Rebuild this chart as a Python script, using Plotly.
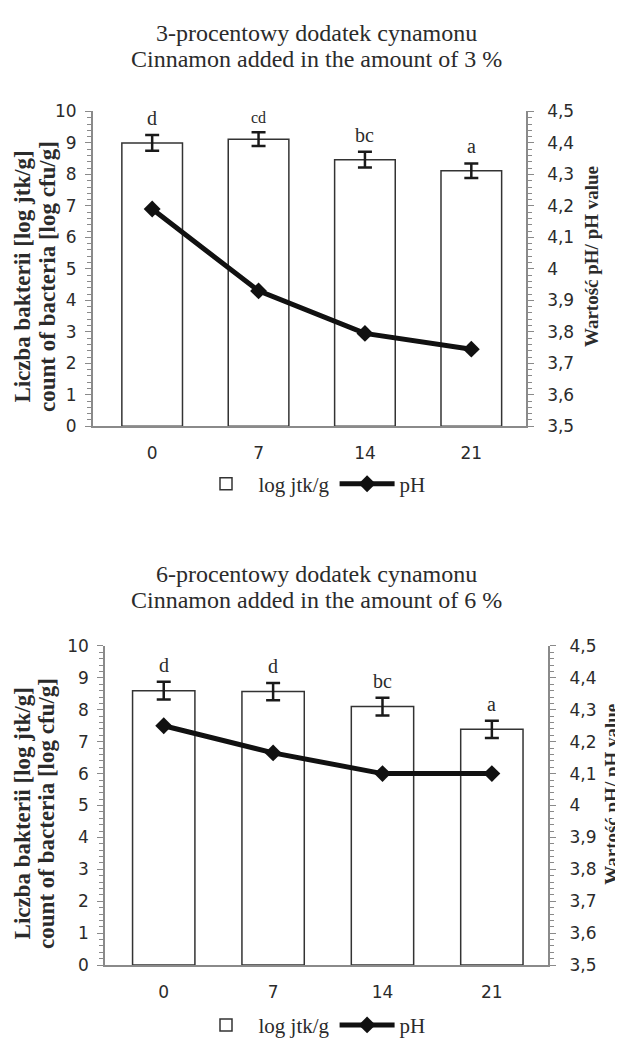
import plotly.graph_objects as go

# ---------------- data ----------------
days = ["0", "7", "14", "21"]

count_3 = [9.0, 9.12, 8.47, 8.12]
err_3 = [0.25, 0.22, 0.25, 0.23]
ph_3 = [4.19, 3.93, 3.795, 3.745]
letters_3 = ["d", "cd", "bc", "a"]

count_6 = [8.6, 8.57, 8.1, 7.39]
err_6 = [0.28, 0.27, 0.28, 0.27]
ph_6 = [4.25, 4.165, 4.10, 4.10]
letters_6 = ["d", "d", "bc", "a"]

titles_3 = ["3-procentowy dodatek cynamonu", "Cinnamon added in the amount of 3 %"]
titles_6 = ["6-procentowy dodatek cynamonu", "Cinnamon added in the amount of 6 %"]
left_title = ["Liczba bakterii [log jtk/g]", "count of bacteria [log cfu/g]"]
right_title = "Wartość pH/ pH value"
bar_name = "log jtk/g"
line_name = "pH"
# --------------------------------------

# The page body keeps its default 8px margin, so the figure starts at (8, 8)
# inside the 623x1047 window; all target positions below are window pixels.
OFF = 8
W, H = 623 - OFF, 1047 - OFF
SERIF = "Liberation Serif, Times New Roman, serif"
SANS = "DejaVu Sans, Verdana, sans-serif"
TXT = "#2b2b2b"
AX = "#8a8a8a"


def px_x(v):
    return (v - OFF) / W


def px_y(v):
    return 1 - (v - OFF) / H


fig = go.Figure()

panels = [
    dict(count=count_3, err=err_3, ph=ph_3, letters=letters_3, titles=titles_3,
         xa="x", ya="y", ya2="y2", legend="legend",
         xdom=[92.7, 526.0], ydom=[424.3, 103.3], xr=[-0.559, 3.514],
         title_y=[23.3, 49.3], legend_y=483.3,
         ltitle_x=[22.7, 48.0], ltitle_y=272, rtitle_x=591.7, rtitle_y=251),
    dict(count=count_6, err=err_6, ph=ph_6, letters=letters_6, titles=titles_6,
         xa="x2", ya="y3", ya2="y4", legend="legend2",
         xdom=[105.0, 548.3], ydom=[973.7, 648.3], xr=[-0.537, 3.516],
         title_y=[575.0, 601.7], legend_y=1035.0,
         ltitle_x=[22.0, 46.5], ltitle_y=819, rtitle_x=612.0, rtitle_y=800),
]

annotations = []
layout_axes = {}

for i, p in enumerate(panels):
    fig.add_trace(go.Bar(
        x=days, y=p["count"], name=bar_name,
        xaxis=p["xa"], yaxis=p["ya"], legend=p["legend"],
        width=0.57,
        marker=dict(color="white", line=dict(color="#333333", width=1.5)),
        error_y=dict(type="data", array=p["err"], visible=True,
                     color="#1a1a1a", thickness=2.5, width=7),
    ))
    fig.add_trace(go.Scatter(
        x=days, y=p["ph"], name=line_name,
        xaxis=p["xa"], yaxis=p["ya2"], legend=p["legend"],
        mode="lines+markers",
        line=dict(color="#111111", width=5),
        marker=dict(symbol="diamond", size=13, color="#111111"),
    ))

    # significance letters (x given as category index)
    for k, (v, e, t) in enumerate(zip(p["count"], p["err"], p["letters"])):
        annotations.append(dict(
            x=k, y=v + e, xref=p["xa"], yref=p["ya"], text=t,
            showarrow=False, yanchor="bottom", yshift=4,
            font=dict(family=SERIF, size=16 if t == "cd" else 20, color=TXT),
        ))
    # chart titles
    for line, yy in zip(p["titles"], p["title_y"]):
        annotations.append(dict(
            x=px_x(316.5), y=px_y(yy), xref="paper", yref="paper",
            text=line, showarrow=False, xanchor="center", yanchor="middle",
            font=dict(family=SERIF, size=24, color=TXT),
        ))
    # y-axis titles
    for line, xx in zip(left_title, p["ltitle_x"]):
        annotations.append(dict(
            x=px_x(xx), y=px_y(p["ltitle_y"]), xref="paper", yref="paper",
            text="<b>%s</b>" % line, showarrow=False, textangle=-90,
            xanchor="center", yanchor="middle",
            font=dict(family=SERIF, size=23, color=TXT),
        ))
    annotations.append(dict(
        x=px_x(p["rtitle_x"]), y=px_y(p["rtitle_y"]), xref="paper", yref="paper",
        text="<b>%s</b>" % right_title, showarrow=False, textangle=-90,
        xanchor="center", yanchor="middle",
        font=dict(family=SERIF, size=19, color=TXT),
    ))

    xname = "xaxis" if i == 0 else "xaxis2"
    yname = "yaxis" if i == 0 else "yaxis3"
    y2name = "yaxis2" if i == 0 else "yaxis4"
    ydomain = [px_y(p["ydom"][0]), px_y(p["ydom"][1])]
    layout_axes[xname] = dict(
        domain=[px_x(p["xdom"][0]), px_x(p["xdom"][1])],
        anchor=p["ya"], type="category", range=p["xr"],
        showline=True, linecolor=AX, linewidth=1.5, ticks="",
        showgrid=False, zeroline=False, ticklabelstandoff=11,
        tickfont=dict(family=SANS, size=17, color=TXT),
    )
    layout_axes[yname] = dict(
        domain=ydomain, anchor=p["xa"], range=[0, 10], dtick=1,
        showline=True, linecolor=AX, linewidth=1.5,
        ticks="outside", ticklen=6, tickcolor=AX, tickwidth=1.2,
        minor=dict(dtick=0.2, ticks="outside", ticklen=4, tickcolor=AX, tickwidth=1),
        showgrid=False, zeroline=False, ticklabelstandoff=5,
        tickfont=dict(family=SANS, size=17, color=TXT),
    )
    layout_axes[y2name] = dict(
        domain=ydomain, anchor=p["xa"], overlaying=p["ya"], side="right",
        range=[3.5, 4.5], dtick=0.1, tickformat=".1~f",
        showline=True, linecolor=AX, linewidth=1.5,
        ticks="outside", ticklen=6, tickcolor=AX, tickwidth=1.2,
        minor=dict(dtick=0.02, ticks="outside", ticklen=4, tickcolor=AX, tickwidth=1),
        showgrid=False, zeroline=False, ticklabelstandoff=10,
        tickfont=dict(family=SANS, size=17, color=TXT),
    )

legend_common = dict(
    orientation="h", xanchor="center", yanchor="middle",
    font=dict(family=SERIF, size=21, color=TXT),
    itemwidth=55, bgcolor="rgba(0,0,0,0)",
)

fig.update_layout(
    width=W, height=H,
    margin=dict(l=0, r=0, t=0, b=0),
    paper_bgcolor="white", plot_bgcolor="white",
    separators=",.",
    showlegend=True,
    legend=dict(x=px_x(312), y=px_y(panels[0]["legend_y"]), **legend_common),
    legend2=dict(x=px_x(312), y=px_y(panels[1]["legend_y"]), **legend_common),
    annotations=annotations,
    **layout_axes,
)

fig.write_html("out.html")
